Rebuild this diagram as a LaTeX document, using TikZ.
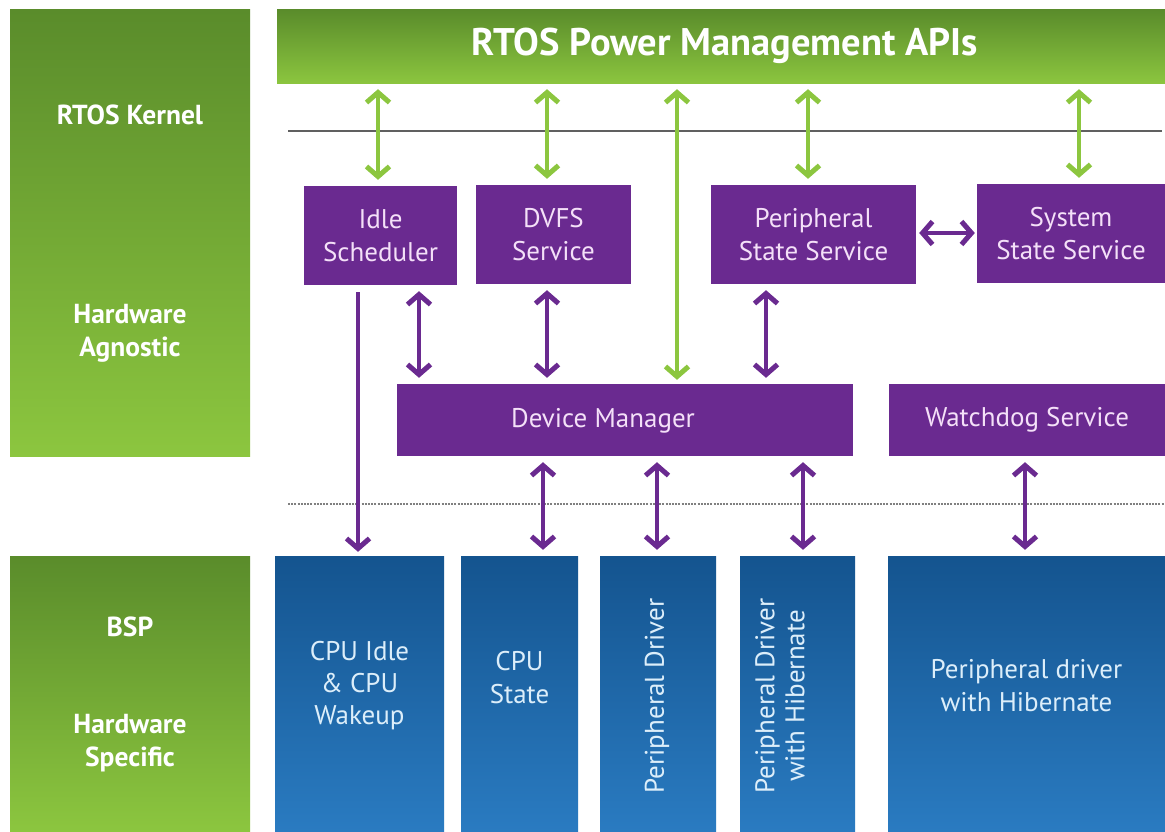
\documentclass[tikz,border=0pt]{standalone}
\usepackage{fontspec}
\setmainfont{PT Sans}
\usetikzlibrary{arrows.meta}

\definecolor{layerD}{HTML}{5A8C2B}
\definecolor{layerL}{HTML}{8CC63F}
\definecolor{svcpurple}{HTML}{6A2A90}
\definecolor{svctext}{HTML}{F4E0F8}
\definecolor{hwD}{HTML}{14548F}
\definecolor{hwL}{HTML}{2A7BC1}
\definecolor{hwtext}{HTML}{DCEEFA}
\definecolor{linkgreen}{HTML}{8CC63F}
\definecolor{rulegray}{HTML}{606060}

\tikzset{
  x=1pt, y=-1pt,
  chev/.tip={Straight Barb[length=10pt,width=23pt,line width=5pt]},
  layer/.style={rectangle, inner sep=0pt, top color=layerD, bottom color=layerL},
  layertxt/.style={text=white, align=center, font=\bfseries\fontsize{27.5}{33}\selectfont},
  svc/.style={rectangle, inner sep=0pt, fill=svcpurple, text=svctext, align=center,
              font=\fontsize{27}{33}\selectfont},
  svctxt/.style={text=svctext, align=center, font=\fontsize{27}{33}\selectfont},
  hw/.style={rectangle, inner sep=0pt, top color=hwD, bottom color=hwL, text=hwtext,
             align=center, font=\fontsize{27}{32}\selectfont},
  hwtxt/.style={text=hwtext, align=center, font=\fontsize{27}{30}\selectfont},
  glink/.style={draw=linkgreen, line width=3.5pt, {chev}-{chev}},
  plink/.style={draw=svcpurple, line width=3.5pt, {chev}-{chev}},
  pone/.style={draw=svcpurple, line width=3.5pt, -{chev}},
}

\begin{document}
\begin{tikzpicture}
\useasboundingbox (0,0) rectangle (1165,832);
\fill[white] (0,0) rectangle (1165,832);

% layer captions on the left
\node[layer, minimum width=240pt, minimum height=446pt] (kernel) at (130,233) {};
\node[layer, minimum width=240pt, minimum height=276pt] (bsp) at (130,694) {};
\node[layertxt] (kname) at (130,115) {RTOS Kernel};
\node[layertxt] (kagn) at (130,333) {Hardware\\Agnostic};
\node[layertxt] (bname) at (130,627) {BSP};
\node[layertxt] (bspec) at (130,743) {Hardware\\Specific};

% API bar
\node[layer, minimum width=888pt, minimum height=74pt] (api) at (721,47) {};
\node[text=white, font=\bfseries\fontsize{38.5}{42}\selectfont] (apitxt) at (725,46) {RTOS Power Management APIs};

% separators
\coordinate (ruleL) at (288,131);
\coordinate (ruleR) at (1162,131);
\draw[rulegray, line width=2pt] (ruleL) -- (ruleR);
\coordinate (dotL) at (288,504);
\coordinate (dotR) at (1165,504);
\draw[rulegray!80, line width=1.6pt, dash pattern=on 2pt off 1.2pt] (dotL) -- (dotR);

% services
\node[svc, minimum width=153pt, minimum height=99pt] (idle) at (380.5,235.5) {Idle\\Scheduler};
\node[svc, minimum width=155pt, minimum height=99pt] (dvfs) at (553.5,234.5) {DVFS\\Service};
\node[svc, minimum width=205pt, minimum height=99pt] (pss) at (813.5,234.5) {Peripheral\\State Service};
\node[svc, minimum width=188pt, minimum height=99pt] (sss) at (1071,233.5) {System\\State Service};
\node[svc, minimum width=456pt, minimum height=72pt] (dm) at (625,420) {};
\node[svctxt] (dmtxt) at (603,421) {Device Manager};
\node[svc, minimum width=276pt, minimum height=72pt] (wd) at (1027,420) {Watchdog Service};

% board support drivers
\node[hw, minimum width=169pt, minimum height=276pt] (cpuidle) at (359.5,694) {};
\node[hwtxt, font=\fontsize{27}{32}\selectfont] (cpuidletxt) at (359.5,686) {CPU Idle\\\& CPU\\Wakeup};
\node[hw, minimum width=117pt, minimum height=276pt] (cpustate) at (519.5,694) {};
\node[hwtxt, font=\fontsize{27}{33}\selectfont] (cpustatetxt) at (519.5,678) {CPU\\State};
\node[hw, minimum width=116pt, minimum height=276pt] (pdrv) at (658,694) {};
\node[hwtxt, rotate=90] (pdrvtxt) at (657,696) {Peripheral Driver};
\node[hw, minimum width=115pt, minimum height=276pt] (pdrvh) at (797.5,694) {};
\node[hwtxt, rotate=90] (pdrvhtxt) at (780,696) {Peripheral Driver\\with Hibernate};
\node[hw, minimum width=277pt, minimum height=276pt] (pdrvw) at (1026.5,694) {};
\node[hwtxt, font=\fontsize{27}{33}\selectfont] (pdrvwtxt) at (1026.5,686) {Peripheral driver\\with Hibernate};

% API links
\draw[glink, shorten <=5pt, shorten >=6pt] ([xshift=-2.5pt]idle.north |- api.south) -- ([xshift=-2.5pt]idle.north);
\draw[glink, shorten <=5pt, shorten >=6pt] ([xshift=-6.5pt]dvfs.north |- api.south) -- ([xshift=-6.5pt]dvfs.north);
\draw[glink, shorten <=5pt, shorten >=4pt] ([xshift=52pt]dm.north |- api.south) -- ([xshift=52pt]dm.north);
\draw[glink, shorten <=5pt, shorten >=6pt] ([xshift=-5.5pt]pss.north |- api.south) -- ([xshift=-5.5pt]pss.north);
\draw[glink, shorten <=5pt, shorten >=6pt] ([xshift=8pt]sss.north |- api.south) -- ([xshift=8pt]sss.north);

% service links
\draw[plink, shorten <=6pt, shorten >=6pt] ([xshift=38.5pt]idle.south) -- ([xshift=38.5pt]idle.south |- dm.north);
\draw[plink, shorten <=6pt, shorten >=6pt] ([xshift=-6.5pt]dvfs.south) -- ([xshift=-6.5pt]dvfs.south |- dm.north);
\draw[plink, shorten <=6pt, shorten >=6pt] ([xshift=-47.5pt]pss.south) -- ([xshift=-47.5pt]pss.south |- dm.north);
\draw[plink, shorten <=3pt, shorten >=2pt] (pss.east |- 0,233) -- (sss.west |- 0,233);
\draw[pone, shorten <=7pt, shorten >=4pt] ([xshift=-22.5pt]idle.south) -- ([xshift=-22.5pt]idle.south |- cpuidle.north);

% driver links
\draw[plink, shorten <=6pt, shorten >=6pt] ([xshift=23.5pt]cpustate.north |- dm.south) -- ([xshift=23.5pt]cpustate.north);
\draw[plink, shorten <=6pt, shorten >=6pt] ([xshift=-1pt]pdrv.north |- dm.south) -- ([xshift=-1pt]pdrv.north);
\draw[plink, shorten <=6pt, shorten >=6pt] ([xshift=5.5pt]pdrvh.north |- dm.south) -- ([xshift=5.5pt]pdrvh.north);
\draw[plink, shorten <=6pt, shorten >=6pt] ([xshift=-2pt]wd.south) -- ([xshift=-2pt]wd.south |- pdrvw.north);
\end{tikzpicture}
\end{document}
